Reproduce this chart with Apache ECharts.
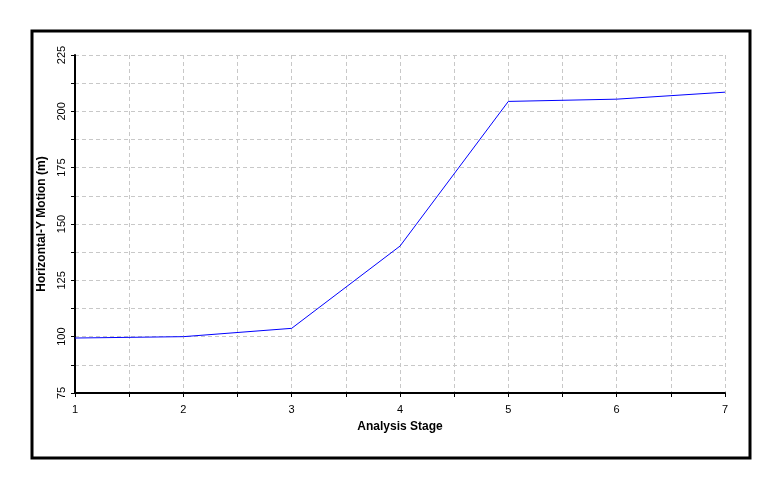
<!DOCTYPE html>
<html><head><meta charset="utf-8">
<script src="https://cdn.jsdelivr.net/npm/echarts@6/dist/echarts.min.js"></script>
<style>html,body{margin:0;padding:0;background:#fff}#c{width:780px;height:489px}</style>
</head><body><div id="c"></div>
<script>
const stages = [1, 2, 3, 4, 5, 6, 7];
const motion = [99.4, 100.0, 103.7, 140.2, 204.4, 205.4, 208.5];
const yTicks = [75, 100, 125, 150, 175, 200, 225];
const xTicks = [1, 2, 3, 4, 5, 6, 7];

const chart = echarts.init(document.getElementById('c'));
const font = 'Liberation Sans, Arial, sans-serif';
chart.setOption({
  animation: false,
  graphic: [{type: 'rect', shape: {x: 32, y: 31, width: 718, height: 427},
    style: {fill: 'none', stroke: '#000', lineWidth: 3}}],
  grid: {left: 75, right: 55, top: 55, bottom: 96},
  xAxis: {
    type: 'value', min: 1, max: 7, interval: 0.5,
    name: 'Analysis Stage', nameLocation: 'middle', nameGap: 28,
    nameTextStyle: {fontFamily: font, fontWeight: 'bold', fontSize: 12, color: '#000'},
    axisLine: {lineStyle: {color: '#000', width: 2}},
    axisTick: {show: true, length: 4, lineStyle: {color: '#000'}},
    axisLabel: {fontFamily: font, fontSize: 11, color: '#000', margin: 11,
      formatter: v => xTicks.includes(v) ? String(v) : ''},
    splitLine: {show: true, lineStyle: {color: '#c8c8c8', type: [4, 3]}}
  },
  yAxis: {
    type: 'value', min: 75, max: 225, interval: 12.5,
    name: 'Horizontal-Y Motion (m)', nameLocation: 'middle', nameGap: 26,
    nameTextStyle: {fontFamily: font, fontWeight: 'bold', fontSize: 12, color: '#000'},
    axisLine: {show: true, lineStyle: {color: '#000', width: 2}},
    axisTick: {show: true, length: 4, lineStyle: {color: '#000'}},
    axisLabel: {fontFamily: font, fontSize: 11, color: '#000', rotate: 90, margin: 8,
      formatter: v => yTicks.includes(v) ? String(v) : ''},
    splitLine: {show: true, lineStyle: {color: '#c8c8c8', type: [4, 3]}}
  },
  series: [{
    type: 'line', data: stages.map((s, i) => [s, motion[i]]),
    showSymbol: false, lineStyle: {color: '#0000ff', width: 1}
  }]
});
</script></body></html>
